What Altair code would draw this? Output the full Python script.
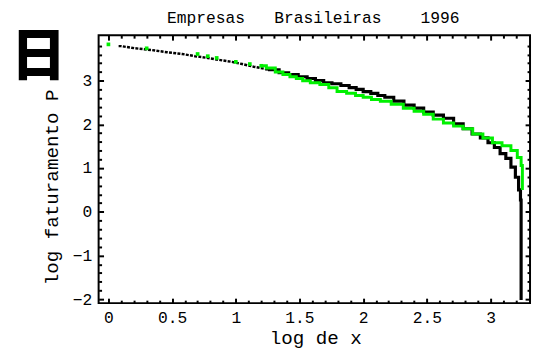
import altair as alt
import pandas as pd

# ---- data ----
black_x = [0.08, 0.10, 0.21, 0.34, 0.46, 0.58, 0.68, 0.78, 0.88, 0.97, 1.05, 1.14, 1.23,
           1.30, 1.38, 1.45, 1.53, 1.59, 1.66, 1.72, 1.79, 1.86, 1.92, 1.97, 2.03, 2.09,
           2.14, 2.20, 2.28, 2.36, 2.44, 2.51, 2.59, 2.67, 2.75, 2.82, 2.89, 2.95, 3.01,
           3.05, 3.10, 3.14, 3.18, 3.21, 3.23, 3.24, 3.24]
black_y = [3.79, 3.79, 3.74, 3.70, 3.65, 3.61, 3.56, 3.52, 3.47, 3.43, 3.38, 3.32, 3.27,
           3.25, 3.18, 3.14, 3.09, 3.05, 3.00, 2.95, 2.93, 2.89, 2.84, 2.80, 2.75, 2.71,
           2.66, 2.62, 2.53, 2.44, 2.37, 2.28, 2.21, 2.14, 2.01, 1.90, 1.78, 1.69, 1.58,
           1.47, 1.33, 1.22, 1.02, 0.79, 0.50, 0.27, -2.02]

green_x = [0.00, 0.30, 0.70, 0.78, 0.85, 1.00, 1.11, 1.20, 1.28, 1.34, 1.40, 1.45, 1.50,
           1.55, 1.62, 1.70, 1.76, 1.83, 1.91, 1.97, 2.03, 2.10, 2.17, 2.27, 2.36, 2.44,
           2.51, 2.59, 2.67, 2.75, 2.82, 2.90, 2.98, 3.05, 3.13, 3.19, 3.23, 3.25, 3.25]
green_y = [3.83, 3.74, 3.61, 3.56, 3.52, 3.43, 3.38, 3.34, 3.29, 3.20, 3.14, 3.09, 3.05,
           3.00, 2.95, 2.91, 2.84, 2.75, 2.71, 2.66, 2.62, 2.57, 2.53, 2.46, 2.37, 2.30,
           2.23, 2.12, 2.03, 1.96, 1.90, 1.78, 1.69, 1.58, 1.51, 1.40, 1.24, 1.06, 0.50]

x_major = [0, 0.5, 1, 1.5, 2, 2.5, 3]
x_minor = [0.1, 0.2, 0.3, 0.4, 0.6, 0.7, 0.8, 0.9, 1.1, 1.2, 1.3, 1.4, 1.6, 1.7, 1.8,
           1.9, 2.1, 2.2, 2.3, 2.4, 2.6, 2.7, 2.8, 2.9, 3.1, 3.2]
y_major = [-2, -1, 0, 1, 2, 3]
y_minor = [-1.8, -1.6, -1.4, -1.2, -0.8, -0.6, -0.4, -0.2, 0.2, 0.4, 0.6, 0.8, 1.2, 1.4,
           1.6, 1.8, 2.2, 2.4, 2.6, 2.8, 3.2, 3.4, 3.6, 3.8]

title_text = ["Empresas\u00a0\u00a0\u00a0Brasileiras\u00a0\u00a0\u00a0\u00a01996"]
x_title = "log de x"
y_title = "log faturamento P"
glyph = ["日"]

W, H = 438, 272
FONT = "Liberation Mono"
GREEN = "#00f000"

black = pd.DataFrame({"x": black_x, "y": black_y})
green = pd.DataFrame({"x": green_x, "y": green_y})
black_early = black[black.x <= 1.30]
black_main = black[black.x >= 1.23]
green_pts = green[green.x <= 1.20]
green_line = green[green.x >= 1.20]

xs = alt.Scale(domain=[-0.077, 3.31], nice=False, zero=False)
ys = alt.Scale(domain=[-2.09, 4.04], nice=False, zero=False)


def tick_axis(orient, offset, values, size):
    return alt.Axis(orient=orient, offset=offset, values=values, tickSize=size,
                    tickWidth=2, tickColor="black", labels=False, domain=False,
                    title=None, grid=False)


# main layer: bottom and left labelled axes
main_x = alt.X("x:Q", scale=xs, axis=alt.Axis(
    orient="bottom", values=x_major, format="~g", ticks=False, tickSize=0, domain=False,
    grid=False, labelFont=FONT, labelFontSize=16.5, labelColor="black", labelPadding=7,
    title=x_title, titleFont=FONT, titleFontSize=19.5, titleFontWeight="normal",
    titleColor="black", titleX=220, titleY=41, titleBaseline="alphabetic"))
main_y = alt.Y("y:Q", scale=ys, axis=alt.Axis(
    orient="left", values=y_major, format="~g", ticks=False, tickSize=0, domain=False,
    grid=False, labelFont=FONT, labelFontSize=16.5, labelColor="black", labelPadding=7,
    title=y_title, titleFont=FONT, titleFontSize=19.5, titleFontWeight="normal",
    titleColor="black", titleX=-42, titleY=154, titleAngle=270,
    titleAlign="center", titleBaseline="alphabetic"))

l_black_early = alt.Chart(black_early).mark_line(
    color="black", strokeWidth=2.5, strokeDash=[3, 1.3]).encode(x=main_x, y=main_y)

l_black_main = alt.Chart(black_main).mark_line(
    color="black", strokeWidth=3.2, interpolate="step").encode(
    x=alt.X("x:Q", scale=xs, axis=tick_axis("top", -H, x_major, 5)),
    y=alt.Y("y:Q", scale=ys, axis=tick_axis("right", -W, y_major, 5)))

l_green_line = alt.Chart(green_line).mark_line(
    color=GREEN, strokeWidth=3, interpolate="step").encode(
    x=alt.X("x:Q", scale=xs, axis=tick_axis("top", -H, x_minor, 3)),
    y=alt.Y("y:Q", scale=ys, axis=tick_axis("right", -W, y_minor, 3)))

l_green_pts = alt.Chart(green_pts).mark_square(
    color=GREEN, size=14, opacity=1).encode(
    x=alt.X("x:Q", scale=xs, axis=tick_axis("bottom", -H, x_major, 5)),
    y=alt.Y("y:Q", scale=ys, axis=tick_axis("left", -W, y_major, 5)))

l_dummy = alt.Chart(green_pts).mark_point(opacity=0).encode(
    x=alt.X("x:Q", scale=xs, axis=tick_axis("bottom", -H, x_minor, 3)),
    y=alt.Y("y:Q", scale=ys, axis=tick_axis("left", -W, y_minor, 3)))

l_glyph = alt.Chart(pd.DataFrame({"t": glyph})).mark_text(
    font="Noto Sans CJK SC", fontWeight=900, fontSize=56, color="black",
    align="center", baseline="middle").encode(
    x=alt.value(-61), y=alt.value(23), text="t:N")

l_title = alt.Chart(pd.DataFrame({"t": title_text})).mark_text(
    font=FONT, fontSize=16.5, color="black", align="center",
    baseline="alphabetic").encode(
    x=alt.value(218), y=alt.value(-12), text="t:N")

chart = alt.layer(
    l_black_early, l_black_main, l_green_line, l_green_pts, l_dummy, l_glyph, l_title
).resolve_scale(x="shared", y="shared").resolve_axis(
    x="independent", y="independent"
).properties(
    width=W, height=H,
    autosize=alt.AutoSizeParams(type="none"),
    padding={"left": 92, "top": 25, "right": 2, "bottom": 46},
    background="white",
).configure_view(stroke="black", strokeWidth=2)

chart.save("out.html", embed_options={"renderer": "svg", "actions": False})
